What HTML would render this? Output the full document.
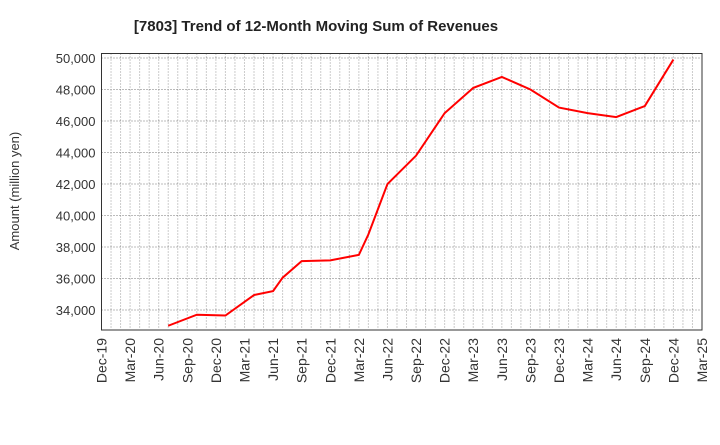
<!DOCTYPE html>
<html><head><meta charset="utf-8"><style>
body{margin:0;background:#fff;font-family:"Liberation Sans",sans-serif}
</style></head><body>
<svg width="720" height="440" xmlns="http://www.w3.org/2000/svg">
<text x="316" y="31" text-anchor="middle" font-size="15" font-weight="bold" fill="#222">[7803]  Trend of 12-Month Moving Sum of Revenues</text>
<text transform="translate(19,191) rotate(-90)" text-anchor="middle" font-size="13" fill="#333">Amount (million yen)</text>
<g id="grid"></g><g id="yticks"></g><g id="xticks"></g>
<rect x="101.5" y="53.5" width="600.5" height="276.5" fill="none" stroke="#333" stroke-width="1"/>
<polyline id="line" fill="none" stroke="#ff0000" stroke-width="2"/>
</svg>
<script>
const months=[7,10,13,16,18,19,21,24,27,28,30,33,36,39,42,45,48,51,54,57,60];
const values=[33000,33700,33650,34950,35200,36050,37100,37150,37500,38800,42000,43800,46500,48100,48800,48000,46850,46500,46250,46950,49900];
const yTicks=[34000,36000,38000,40000,42000,44000,46000,48000,50000];
const xLabels=["Dec-19","Mar-20","Jun-20","Sep-20","Dec-20","Mar-21","Jun-21","Sep-21","Dec-21","Mar-22","Jun-22","Sep-22","Dec-22","Mar-23","Jun-23","Sep-23","Dec-23","Mar-24","Jun-24","Sep-24","Dec-24","Mar-25"];
const NS="http://www.w3.org/2000/svg";
const X0=101.5,X1=702,Y0=330,Y1=53.5,MAXM=63;
const xs=m=>X0+(X1-X0)*m/MAXM;
const ys=v=>58+(50000-v)*(252/16000);
const grid=document.getElementById('grid'),yt=document.getElementById('yticks'),xt=document.getElementById('xticks');
for(let m=1;m<MAXM;m++){const l=document.createElementNS(NS,'line');


l.setAttribute('x1',xs(m));l.setAttribute('x2',xs(m));l.setAttribute('y1',Y1);l.setAttribute('y2',Y0);l.setAttribute('stroke','#999');l.setAttribute('stroke-dasharray','1,2');grid.appendChild(l);}
yTicks.forEach(v=>{const l=document.createElementNS(NS,'line');


l.setAttribute('x1',X0);l.setAttribute('x2',X1);l.setAttribute('y1',ys(v));l.setAttribute('y2',ys(v));l.setAttribute('stroke','#777');l.setAttribute('stroke-dasharray','1,2');grid.appendChild(l);
const t=document.createElementNS(NS,'text');


t.setAttribute('x',X0-6);t.setAttribute('y',ys(v)+5);t.setAttribute('text-anchor','end');t.setAttribute('font-size','13');t.setAttribute('fill','#333');t.textContent=v.toLocaleString('en-US');yt.appendChild(t);});
xLabels.forEach((s,i)=>{const t=document.createElementNS(NS,'text');


const x=xs(i*3)+5;t.setAttribute('transform','translate('+x+',338) rotate(-90)');t.setAttribute('text-anchor','end');t.setAttribute('font-size','14');t.setAttribute('fill','#333');t.textContent=s;xt.appendChild(t);});
document.getElementById('line').setAttribute('points',months.map((m,i)=>xs(m)+','+ys(values[i])).join(' '));
</script>
</body></html>
